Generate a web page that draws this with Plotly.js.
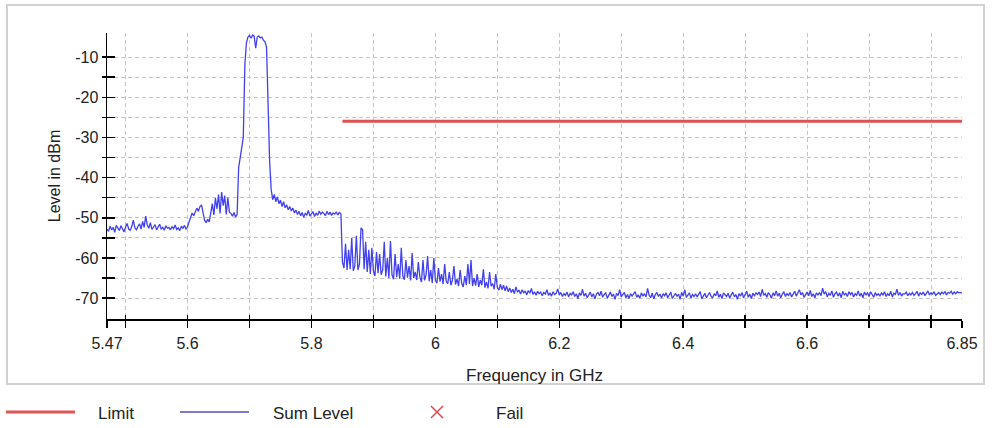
<!DOCTYPE html>
<html>
<head>
<meta charset="utf-8">
<script src="https://cdn.plot.ly/plotly-3.0.1.min.js"></script>
<style>
  html, body { margin: 0; padding: 0; background: #ffffff; }
  #chart { width: 992px; height: 428px; }
</style>
</head>
<body>
<div id="chart"></div>
<script>
// ---- data ----
const freqStart = 5.47;   // GHz, first sweep point
const freqStep = 0.0025;  // GHz, sweep step
const sumLevel = [
  -52.8,-53.4,-52.1,-53.0,-52.4,-53.6,-51.9,-52.7,-53.2,-52.0,-52.9,-53.5,-52.3,-51.4,-52.8,-53.1,-52.2,-50.6,-52.5,-53.0,
  -52.1,-51.5,-52.8,-50.9,-52.4,-49.6,-51.8,-52.6,-51.2,-52.9,-52.3,-51.7,-53.0,-52.2,-51.6,-52.8,-52.4,-53.1,-52.0,-52.6,
  -52.4,-53.0,-52.2,-52.7,-51.8,-52.9,-52.5,-53.2,-52.1,-52.6,-51.9,-52.8,-52.3,-51.0,-49.6,-48.8,-49.5,-48.3,-47.6,-48.4,
  -47.2,-46.8,-48.5,-50.6,-51.2,-50.4,-51.0,-48.2,-46.5,-49.3,-45.1,-47.8,-44.2,-48.9,-43.6,-47.0,-44.5,-49.2,-45.0,-48.6,
  -48.9,-49.6,-48.7,-49.8,-49.2,-37.5,-35.0,-33.5,-30.0,-12.0,-6.5,-5.0,-4.6,-5.3,-4.5,-4.8,-7.8,-5.0,-4.7,-5.2,
  -5.0,-5.8,-6.2,-7.5,-22.0,-36.0,-43.0,-45.5,-44.2,-46.0,-44.8,-46.5,-45.6,-47.2,-46.0,-47.5,-46.8,-48.0,-47.2,-48.3,
  -47.6,-48.8,-48.1,-49.2,-48.4,-49.5,-48.7,-49.9,-48.9,-49.3,-48.2,-49.6,-49.0,-48.5,-49.7,-48.8,-49.4,-48.3,-49.1,-48.6,
  -48.9,-49.5,-48.4,-49.2,-48.6,-49.4,-48.8,-49.1,-48.5,-49.3,-48.7,-49.0,-61.0,-62.5,-56.5,-63.0,-58.0,-62.8,-55.0,-63.2,
  -62.0,-54.5,-63.0,-61.5,-52.5,-53.0,-62.8,-56.0,-63.5,-58.0,-64.0,-57.5,-63.2,-64.5,-58.5,-63.8,-59.0,-64.2,-63.0,-56.0,
  -64.6,-60.0,-65.0,-55.8,-64.2,-65.3,-59.0,-64.8,-61.5,-65.2,-57.5,-64.5,-65.4,-60.5,-64.9,-62.0,-65.6,-58.8,-65.0,-63.5,
  -65.5,-61.0,-64.8,-66.0,-60.5,-65.6,-64.2,-59.5,-65.8,-63.0,-66.2,-60.0,-65.5,-66.3,-62.5,-65.9,-64.0,-66.5,-61.5,-65.8,
  -66.4,-63.5,-66.8,-65.5,-62.0,-66.6,-65.2,-67.0,-63.0,-66.3,-67.2,-64.5,-66.8,-61.5,-66.5,-60.5,-67.0,-65.0,-66.9,-64.0,
  -67.2,-65.5,-66.8,-62.8,-67.4,-66.0,-67.6,-63.5,-67.0,-66.4,-67.8,-64.0,-67.3,-68.0,-66.5,-67.9,-66.8,-68.2,-67.0,-68.4,
  -67.5,-68.6,-67.8,-68.9,-67.2,-68.5,-68.0,-69.0,-67.9,-68.7,-68.2,-69.2,-68.1,-68.8,-67.6,-69.1,-68.4,-69.3,-68.3,-68.9,
  -68.5,-69.4,-68.6,-69.0,-67.9,-69.3,-68.7,-69.5,-68.4,-69.1,-68.8,-67.7,-69.2,-68.6,-69.6,-68.9,-69.3,-68.5,-69.7,-68.8,
  -69.2,-68.4,-69.6,-68.9,-70.1,-68.7,-69.3,-67.8,-69.5,-68.8,-69.9,-69.1,-68.5,-69.7,-68.9,-70.2,-69.0,-68.6,-69.4,-68.3,
  -69.8,-69.1,-68.7,-70.0,-69.3,-68.5,-69.6,-69.0,-70.3,-68.8,-69.4,-67.9,-69.7,-69.2,-68.6,-69.9,-69.1,-70.1,-68.9,-69.5,
  -69.0,-68.4,-69.8,-69.2,-70.0,-68.7,-69.5,-68.9,-69.7,-67.6,-69.3,-69.9,-68.8,-70.2,-69.1,-68.6,-69.6,-69.0,-70.0,-68.9,
  -69.4,-68.7,-69.9,-69.1,-68.5,-70.1,-69.3,-68.8,-69.6,-69.0,-70.3,-68.6,-69.5,-67.9,-69.8,-69.2,-68.7,-70.0,-69.1,-69.6,
  -68.9,-69.7,-69.0,-68.4,-70.2,-69.3,-68.8,-69.9,-69.1,-68.6,-69.5,-70.0,-68.9,-69.4,-68.2,-69.8,-69.0,-70.1,-68.7,-69.3,
  -69.6,-68.8,-70.0,-69.2,-68.5,-69.7,-69.1,-70.3,-68.9,-69.5,-68.6,-69.9,-69.2,-68.3,-69.8,-69.0,-70.1,-68.8,-69.4,-68.7,
  -69.1,-68.5,-69.6,-67.8,-69.3,-68.9,-69.8,-68.6,-69.2,-70.0,-68.7,-69.4,-68.2,-69.5,-68.8,-69.9,-69.0,-68.4,-69.6,-68.9,
  -69.3,-68.6,-69.7,-68.9,-68.3,-69.5,-68.8,-67.9,-69.2,-68.6,-69.8,-69.0,-68.5,-69.4,-68.1,-69.6,-68.9,-69.9,-68.7,-69.2,
  -68.6,-69.4,-67.5,-69.0,-68.4,-69.7,-68.8,-69.3,-68.2,-69.8,-68.9,-68.5,-69.5,-68.7,-69.9,-68.3,-69.2,-68.8,-69.6,-68.4,
  -69.1,-68.6,-69.7,-68.9,-69.3,-68.2,-69.5,-68.8,-69.9,-68.5,-69.2,-68.7,-69.6,-68.4,-69.0,-69.8,-68.6,-69.3,-68.9,-69.5,
  -68.7,-69.2,-68.4,-69.6,-68.9,-69.4,-68.3,-69.7,-68.8,-69.1,-67.8,-69.3,-68.6,-69.5,-68.9,-69.0,-68.5,-69.4,-68.8,-69.2,
  -68.6,-69.3,-68.9,-68.3,-69.5,-68.7,-69.1,-68.5,-69.4,-68.8,-68.2,-69.2,-68.7,-69.0,-68.4,-69.3,-68.9,-68.6,-69.1,-68.5,
  -68.9,-68.4,-69.2,-68.6,-68.8,-68.3,-69.0,-68.5,-68.9,-68.4,-68.7,-68.6,-68.8
];
const limitFreq = [5.85, 6.85];
const limitLevel = [-26, -26];
const xTickVals = [5.47, 5.5, 5.6, 5.7, 5.8, 5.9, 6.0, 6.1, 6.2, 6.3, 6.4, 6.5, 6.6, 6.7, 6.8, 6.85];
const xTickText = ['5.47', '', '5.6', '', '5.8', '', '6', '', '6.2', '', '6.4', '', '6.6', '', '', '6.85'];
const yTickVals = [-70, -65, -60, -55, -50, -45, -40, -35, -30, -25, -20, -15, -10];
const yTickText = ['-70', '', '-60', '', '-50', '', '-40', '', '-30', '', '-20', '', '-10'];
const legendNames = ['Limit', 'Sum Level', 'Fail'];

// ---- layout geometry (pixels) ----
const W = 992, H = 428;
const M = { l: 107, r: 30, t: 33, b: 109 };
const plotW = W - M.l - M.r, plotH = H - M.t - M.b;
const px = p => (p - M.l) / plotW;          // pixel x -> paper x
const py = p => (H - M.b - p) / plotH;      // pixel y -> paper y

const FONT = 'Liberation Sans, Arial, sans-serif';
const RED = '#dc5252';
const BLUE = '#4040f0';

const traces = [
  {
    type: 'scatter', mode: 'lines', name: 'Sum Level',
    x0: freqStart, dx: freqStep, y: sumLevel,
    line: { color: BLUE, width: 1.3 },
    xaxis: 'x', yaxis: 'y', showlegend: false, hoverinfo: 'skip'
  },
  {
    type: 'scatter', mode: 'lines', name: 'Limit',
    x: limitFreq, y: limitLevel,
    line: { color: RED, width: 3 },
    xaxis: 'x2', yaxis: 'y2', showlegend: false, hoverinfo: 'skip'
  }
];

const gridDash = '4px,3px';
const layout = {
  width: W, height: H,
  margin: { l: M.l, r: M.r, t: M.t, b: M.b, pad: 0 },
  paper_bgcolor: '#ffffff', plot_bgcolor: '#ffffff',
  showlegend: false,
  font: { family: FONT, size: 17, color: '#222' },
  xaxis: {
    range: [5.47, 6.85], tickmode: 'array', tickvals: xTickVals, ticktext: xTickText,
    ticks: 'outside', ticklen: 7, tickwidth: 1.5, tickcolor: '#000',
    showline: true, linecolor: '#000', linewidth: 1.5, zeroline: false,
    showgrid: true, gridcolor: '#c4c4c4', gridwidth: 1, griddash: gridDash,
    ticklabelstandoff: 2,
    tickfont: { family: FONT, size: 16, color: '#222' },
    title: { text: 'Frequency in GHz', font: { family: FONT, size: 17, color: '#222' }, standoff: 18 },
    fixedrange: true
  },
  xaxis2: {
    overlaying: 'x', anchor: 'y2', side: 'bottom',
    range: [5.47, 6.85], tickmode: 'array', tickvals: xTickVals,
    ticks: 'inside', ticklen: 4, tickwidth: 1.5, tickcolor: '#000',
    showticklabels: false, showline: false, showgrid: false, zeroline: false, fixedrange: true
  },
  yaxis: {
    range: [-75.2, -4], tickmode: 'array', tickvals: yTickVals, ticktext: yTickText,
    ticks: 'outside', ticklen: 4, tickwidth: 1.5, tickcolor: '#000',
    showline: true, linecolor: '#000', linewidth: 1.5, zeroline: false,
    showgrid: true, gridcolor: '#c4c4c4', gridwidth: 1, griddash: gridDash,
    tickfont: { family: FONT, size: 16, color: '#222' },
    title: { text: 'Level in dBm', font: { family: FONT, size: 16, color: '#222' }, standoff: 10 },
    fixedrange: true
  },
  yaxis2: {
    overlaying: 'y', anchor: 'x2', side: 'left',
    range: [-75.2, -4], tickmode: 'array', tickvals: yTickVals,
    ticks: 'inside', ticklen: 8, tickwidth: 1.5, tickcolor: '#000',
    showticklabels: false, showline: false, showgrid: false, zeroline: false, fixedrange: true
  },
  shapes: [
    // outer frame
    { type: 'rect', xref: 'paper', yref: 'paper', layer: 'below',
      x0: px(7), x1: px(984), y0: py(384), y1: py(5),
      line: { color: '#d2d2d2', width: 2 }, fillcolor: 'rgba(0,0,0,0)' },
    // legend: Limit
    { type: 'line', xref: 'paper', yref: 'paper', x0: px(6), x1: px(75), y0: py(412), y1: py(412),
      line: { color: '#e05555', width: 3 } },
    // legend: Sum Level
    { type: 'line', xref: 'paper', yref: 'paper', x0: px(180), x1: px(249), y0: py(412), y1: py(412),
      line: { color: '#7a7acc', width: 2 } },
    // legend: Fail (x marker)
    { type: 'line', xref: 'paper', yref: 'paper', x0: px(431), x1: px(443), y0: py(406), y1: py(418),
      line: { color: '#e04848', width: 1.5 } },
    { type: 'line', xref: 'paper', yref: 'paper', x0: px(431), x1: px(443), y0: py(418), y1: py(406),
      line: { color: '#e04848', width: 1.5 } }
  ],
  annotations: [
    { xref: 'paper', yref: 'paper', x: px(96), y: py(413), xanchor: 'left', yanchor: 'middle',
      text: legendNames[0], showarrow: false, font: { family: FONT, size: 17, color: '#222' } },
    { xref: 'paper', yref: 'paper', x: px(271), y: py(413), xanchor: 'left', yanchor: 'middle',
      text: legendNames[1], showarrow: false, font: { family: FONT, size: 17, color: '#222' } },
    { xref: 'paper', yref: 'paper', x: px(494), y: py(413), xanchor: 'left', yanchor: 'middle',
      text: legendNames[2], showarrow: false, font: { family: FONT, size: 17, color: '#222' } }
  ]
};

Plotly.newPlot('chart', traces, layout, { staticPlot: true, displayModeBar: false });
</script>
</body>
</html>
